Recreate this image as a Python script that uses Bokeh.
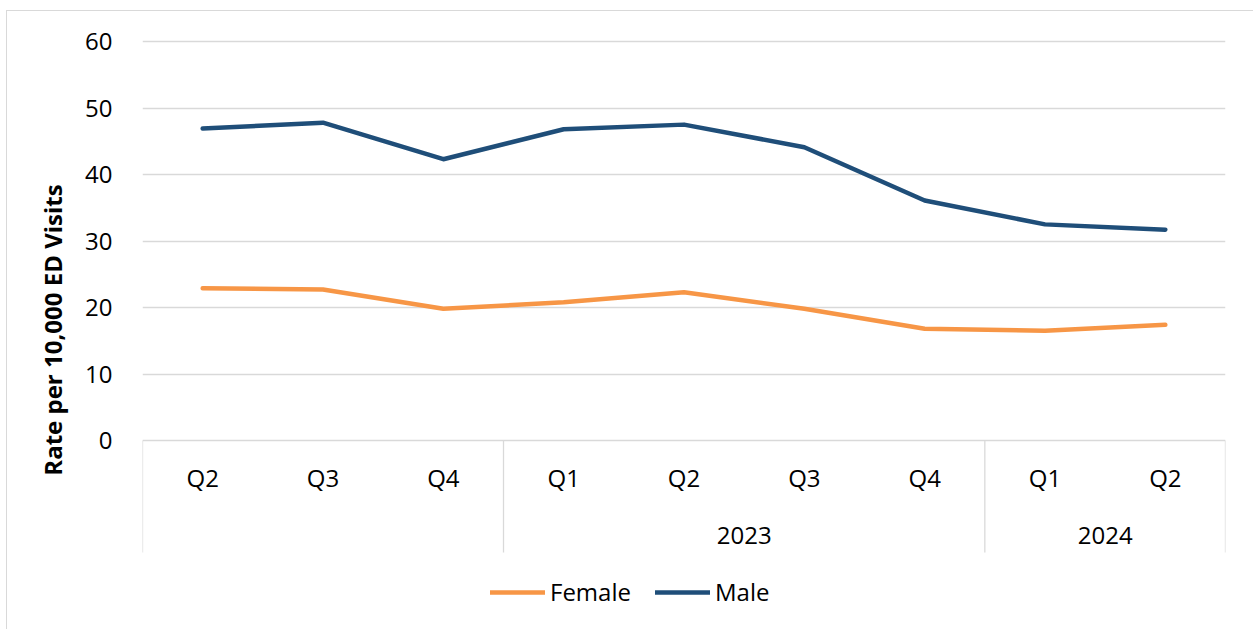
from bokeh.plotting import figure
from bokeh.models import ColumnDataSource, FixedTicker, Legend, LegendItem, Range1d, Title
from bokeh.core.properties import value
from bokeh.embed import file_html
from bokeh.resources import INLINE

quarters = ["Q2", "Q3", "Q4", "Q1", "Q2", "Q3", "Q4", "Q1", "Q2"]
years = ["", "2023", "2024"]
year_sizes = [3, 4, 2]
female = [22.9, 22.7, 19.8, 20.8, 22.3, 19.8, 16.8, 16.5, 17.4]
male = [46.9, 47.8, 42.3, 46.8, 47.5, 44.1, 36.1, 32.5, 31.7]
y_ticks = [0, 10, 20, 30, 40, 50, 60]
y_title = "Rate per 10,000 ED Visits"

FONT = "Open Sans"
GRID = "#d9d9d9"
FEMALE_C = "#F79646"
MALE_C = "#1F4E79"

# layout (pixels)
PX_PER_UNIT = 6.65      # vertical scale of the value axis
TOP_PAD_PX = 11         # space above the 60 gridline
BOTTOM_PX = 189         # space below the 0 line (category axis + legend)
AXIS_DEPTH_PX = 112     # length of the category separators

xs = [i + 0.5 for i in range(len(quarters))]

bounds = [0]
for s in year_sizes:
    bounds.append(bounds[-1] + s)
year_centres = [(bounds[i] + bounds[i + 1]) / 2 for i in range(len(year_sizes))]

y_end = max(y_ticks) + TOP_PAD_PX / PX_PER_UNIT
y_start = -BOTTOM_PX / PX_PER_UNIT
frame_h = round((y_end - y_start) * PX_PER_UNIT)

# shift of the y title so it centres on the 0..60 value scale, not the whole frame
title_offset = round(frame_h / 2 - (y_end - (max(y_ticks) + min(y_ticks)) / 2) * PX_PER_UNIT)

p = figure(frame_width=1083, frame_height=frame_h, output_backend="svg", toolbar_location=None,
           x_range=Range1d(0, len(quarters)), y_range=Range1d(y_start, y_end),
           x_axis_location=None,
           min_border_left=135, min_border_right=28, min_border_top=19,
           min_border_bottom=0)
p.styles = {"margin-left": "6px", "margin-top": "10px",
            "border-left": "1px solid #d9d9d9", "border-top": "1px solid #d9d9d9"}
p.outline_line_color = None
p.background_fill_color = "white"
p.border_fill_color = "white"

p.xgrid.visible = False
p.ygrid.ticker = FixedTicker(ticks=y_ticks)
p.ygrid.grid_line_color = GRID
p.ygrid.grid_line_width = 1.3

ya = p.yaxis[0]
ya.ticker = FixedTicker(ticks=y_ticks)
ya.axis_line_color = None
ya.major_tick_line_color = None
ya.minor_tick_line_color = None
ya.major_label_text_font = FONT
ya.major_label_text_font_size = "24px"
ya.major_label_text_color = "#000000"
ya.major_label_standoff = 24

yt = Title(text=y_title, align="center", offset=title_offset, standoff=28,
           text_font=FONT, text_font_size="24px", text_font_style="bold",
           text_color="#000000")
p.add_layout(yt, "left")

sep_bottom = -AXIS_DEPTH_PX / PX_PER_UNIT
p.segment(x0=bounds, y0=[0] * len(bounds), x1=bounds, y1=[sep_bottom] * len(bounds),
          line_color=GRID, line_width=1.3)

qsrc = ColumnDataSource(dict(x=xs, y=[0] * len(xs), t=quarters))
p.text(x="x", y="y", text="t", source=qsrc, text_font=value(FONT),
       text_font_size="24px", text_align="center", text_baseline="middle",
       y_offset=37, text_color="#000000")
ysrc = ColumnDataSource(dict(x=year_centres, y=[0] * len(year_centres), t=years))
p.text(x="x", y="y", text="t", source=ysrc, text_font=value(FONT),
       text_font_size="24px", text_align="center", text_baseline="middle",
       y_offset=95, text_color="#000000")

rf = p.line(xs, female, line_color=FEMALE_C, line_width=4.5, line_join="round", line_cap="round")
rm = p.line(xs, male, line_color=MALE_C, line_width=4.5, line_join="round", line_cap="round")

legend = Legend(items=[LegendItem(label="Female", renderers=[rf]),
                       LegendItem(label="Male", renderers=[rm])],
                orientation="horizontal", location=(348, 21))
legend.label_text_font = FONT
legend.label_text_font_size = "24px"
legend.label_text_color = "#000000"
legend.glyph_width = 55
legend.label_standoff = 5
legend.spacing = 24
legend.border_line_color = None
legend.background_fill_alpha = 0
legend.margin = 0
legend.padding = 0
p.add_layout(legend)

open("out.html", "w").write(file_html(p, INLINE))
